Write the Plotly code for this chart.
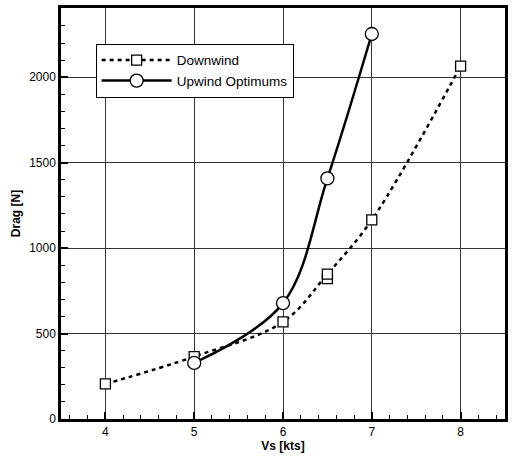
import plotly.graph_objects as go

# Data
down_x = [4, 5, 6, 6.5, 7, 8]
down_y = [205, 365, 568, 848, 1165, 2065]
down_extra_x = [6.5]
down_extra_y = [822]
up_x = [5, 6, 6.5, 7]
up_y = [328, 678, 1408, 2253]

x_ticks = [4, 5, 6, 7, 8]
y_ticks = [0, 500, 1000, 1500, 2000]

sq = dict(symbol="square", size=10, color="white", line=dict(width=1.3, color="black"))

fig = go.Figure()
fig.add_trace(go.Scatter(
    x=down_extra_x, y=down_extra_y, mode="markers", showlegend=False,
    marker=sq,
))
fig.add_trace(go.Scatter(
    x=down_x, y=down_y, mode="lines+markers", name="Downwind",
    line=dict(color="black", width=2.5, dash="4px,4px", shape="spline", smoothing=1.0),
    marker=sq,
))
fig.add_trace(go.Scatter(
    x=up_x, y=up_y, mode="lines+markers", name="Upwind Optimums",
    line=dict(color="black", width=2.5, shape="spline", smoothing=1.0),
    marker=dict(symbol="circle", size=13, color="white", line=dict(width=1.3, color="black")),
))

font = "Liberation Sans, Arial, sans-serif"
fig.update_layout(
    width=512, height=456,
    margin=dict(l=61, r=4, t=8, b=35),
    paper_bgcolor="white", plot_bgcolor="white",
    font=dict(family=font, size=12, color="black"),
    showlegend=True,
    legend=dict(x=0.078, y=0.913, xanchor="left", yanchor="top",
                bgcolor="white", bordercolor="black", borderwidth=1,
                font=dict(size=13.5), itemwidth=70, tracegroupgap=0),
)
fig.update_xaxes(
    range=[3.5, 8.5], tickvals=x_ticks, ticktext=[str(v) for v in x_ticks],
    ticks="inside", ticklen=7, tickwidth=2, tickcolor="black",
    minor=dict(dtick=0.2, ticks="inside", ticklen=4, tickwidth=1, tickcolor="black", showgrid=False),
    showgrid=True, gridcolor="#333", gridwidth=1,
    showline=True, linecolor="black", linewidth=3, mirror=True,
    zeroline=False,
    title=dict(text="<b>Vs [kts]</b>", standoff=4, font=dict(size=12)),
    tickfont=dict(size=12),
)
fig.update_yaxes(
    range=[0, 2405], tickvals=y_ticks, ticktext=[str(v) for v in y_ticks],
    ticks="inside", ticklen=7, tickwidth=2, tickcolor="black",
    minor=dict(dtick=100, ticks="inside", ticklen=4, tickwidth=1, tickcolor="black", showgrid=False),
    showgrid=True, gridcolor="#333", gridwidth=1,
    showline=True, linecolor="black", linewidth=2.5, mirror=True,
    zeroline=False,
    title=dict(text="<b>Drag [N]</b>", standoff=6, font=dict(size=12)),
    tickfont=dict(size=12),
)
fig.write_html("out.html")
